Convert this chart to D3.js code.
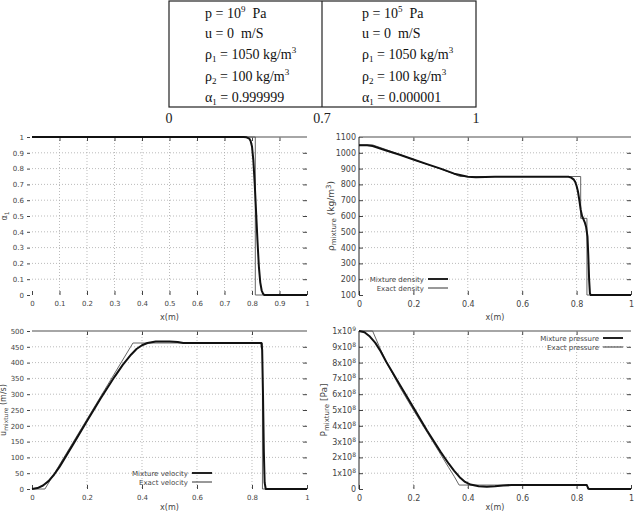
<!DOCTYPE html>
<html>
<head>
<meta charset="utf-8">
<script src="https://cdn.jsdelivr.net/npm/d3@7"></script>
<style>
  body { margin: 0; background: #fff; }
  svg { display: block; }
</style>
</head>
<body>
<svg id="chart" width="636" height="512"></svg>
<script>
const svg = d3.select('#chart');

// initial state table (segments: [text, 'sup'|'sub'|''])
const leftCell = [
  [['p = 10', ''], ['9', 'sup'], ['  Pa', '']],
  [['u = 0  m/S', '']],
  [['ρ', ''], ['1', 'sub'], [' = 1050 kg/m', ''], ['3', 'sup']],
  [['ρ', ''], ['2', 'sub'], [' = 100 kg/m', ''], ['3', 'sup']],
  [['α', ''], ['1', 'sub'], [' = 0.999999', '']]
];
const rightCell = [
  [['p = 10', ''], ['5', 'sup'], ['  Pa', '']],
  [['u = 0  m/S', '']],
  [['ρ', ''], ['1', 'sub'], [' = 1050 kg/m', ''], ['3', 'sup']],
  [['ρ', ''], ['2', 'sub'], [' = 100 kg/m', ''], ['3', 'sup']],
  [['α', ''], ['1', 'sub'], [' = 0.000001', '']]
];
const tubeMarks = ['0', '0.7', '1'];
const tubeMarkPos = [0, 0.7, 1];

// volume fraction alpha_1
const alphaNumX = [0, 0.77, 0.78, 0.79, 0.795, 0.80, 0.805, 0.81, 0.815, 0.82, 0.825, 0.83, 0.835, 0.84, 0.845, 1];
const alphaNumY = [1, 1, 0.998, 0.99, 0.975, 0.94, 0.85, 0.7, 0.52, 0.34, 0.18, 0.08, 0.03, 0.008, 0, 0];
const alphaExX = [0, 0.812, 0.812, 1];
const alphaExY = [1, 1, 0, 0];

// mixture density
const densNumX = [0, 0.03, 0.05, 0.1, 0.15, 0.2, 0.25, 0.3, 0.35, 0.4, 0.43, 0.5, 0.77, 0.78, 0.79, 0.795, 0.8, 0.805, 0.81, 0.815, 0.82, 0.825, 0.83, 0.835, 0.84, 0.843, 0.846, 0.849, 0.852, 1];
const densNumY = [1048, 1048, 1043, 1015, 988, 958, 928, 900, 868, 849, 845, 848, 848, 843, 830, 815, 790, 755, 700, 640, 600, 580, 560, 530, 470, 350, 200, 110, 100, 100];
const densExX = [0, 0.05, 0.1, 0.15, 0.2, 0.25, 0.3, 0.35, 0.37, 0.815, 0.815, 0.838, 0.838, 1];
const densExY = [1050, 1050, 1020, 988, 957, 927, 898, 866, 850, 850, 585, 585, 100, 100];

// mixture velocity
const velNumX = [0, 0.02, 0.04, 0.06, 0.08, 0.1, 0.15, 0.2, 0.25, 0.3, 0.33, 0.36, 0.38, 0.4, 0.42, 0.45, 0.5, 0.53, 0.55, 0.6, 0.834, 0.837, 0.84, 0.843, 0.846, 0.85, 1];
const velNumY = [0, 3, 11, 25, 45, 70, 142, 215, 287, 355, 393, 425, 443, 455, 462, 467, 467, 465, 462, 462, 462, 440, 300, 120, 20, 0, 0];
const velExX = [0, 0.047, 0.367, 0.838, 0.838, 1];
const velExY = [0, 0, 462, 462, 0, 0];

// mixture pressure, in units of 1e8 Pa
const presNumX = [0, 0.02, 0.04, 0.06, 0.08, 0.1, 0.15, 0.2, 0.25, 0.3, 0.33, 0.35, 0.37, 0.39, 0.41, 0.44, 0.47, 0.5, 0.53, 0.56, 0.837, 0.84, 0.843, 0.846, 1];
const presNumY = [10, 9.92, 9.65, 9.25, 8.7, 8.05, 6.6, 5.15, 3.7, 2.35, 1.6, 1.15, 0.75, 0.45, 0.28, 0.18, 0.15, 0.17, 0.22, 0.25, 0.25, 0.15, 0.04, 0.001, 0.001];
const presExX = [0, 0.05, 0.08, 0.1, 0.15, 0.2, 0.25, 0.3, 0.33, 0.35, 0.368, 0.84, 0.84, 1];
const presExY = [10, 10, 8.8, 8.05, 6.45, 5.0, 3.6, 2.2, 1.35, 0.8, 0.25, 0.25, 0.001, 0.001];
const presTickLabels = ['0', '1x10^8', '2x10^8', '3x10^8', '4x10^8', '5x10^8', '6x10^8', '7x10^8', '8x10^8', '9x10^8', '1x10^9'];

// ---------- table ----------
const tab = { left: 169, right: 476, top: 1, bottom: 107 };
// sketch of the tube is not to scale: 0.7 sits mid-box
const tubeX = d3.scaleLinear().domain([0, 0.7, 1]).range([tab.left, 322, tab.right]);
svg.append('rect')
    .attr('x', tab.left).attr('y', tab.top)
    .attr('width', tab.right - tab.left).attr('height', tab.bottom - tab.top)
    .attr('fill', 'none').attr('stroke', '#222').attr('stroke-width', 1.2);
svg.append('line')
    .attr('x1', tubeX(0.7)).attr('x2', tubeX(0.7))
    .attr('y1', tab.top).attr('y2', tab.bottom)
    .attr('stroke', '#222').attr('stroke-width', 1.2);

const rowBase = [18, 38, 59, 81, 102];
const writeCell = (rows, x0) => {
  rows.forEach((segs, i) => {
    const t = svg.append('text')
        .attr('x', x0).attr('y', rowBase[i])
        .attr('font-family', 'Liberation Serif, serif')
        .attr('font-size', 14)
        .attr('fill', '#111')
        .style('white-space', 'pre');
    let shift = 0;
    segs.forEach(([txt, kind]) => {
      const target = kind === 'sup' ? -6 : kind === 'sub' ? 3 : 0;
      t.append('tspan')
          .attr('dy', target - shift)
          .attr('font-size', kind ? 9 : 14)
          .text(txt);
      shift = target;
    });
  });
};
writeCell(leftCell, 205);
writeCell(rightCell, 362);

svg.selectAll('.tubemark')
    .data(tubeMarks)
    .enter().append('text')
    .attr('x', (d, i) => tubeX(tubeMarkPos[i]))
    .attr('y', 123)
    .attr('text-anchor', 'middle')
    .attr('font-family', 'Liberation Serif, serif')
    .attr('font-size', 14)
    .attr('fill', '#222')
    .text(d => d);

// ---------- plots ----------
const drawPanel = o => {
  const g = svg.append('g')
      .attr('font-family', 'DejaVu Sans, sans-serif');
  const x = d3.scaleLinear().domain([0, 1]).range([o.left, o.right]);
  const y = d3.scaleLinear().domain(o.yDomain).range([o.bottom, o.top]);

  // grid
  g.selectAll('.gx')
      .data(o.xTicks.filter(d => d > 0 && d < 1))
      .enter().append('line')
      .attr('x1', d => x(d)).attr('x2', d => x(d))
      .attr('y1', o.top).attr('y2', o.bottom)
      .attr('stroke', '#aaa').attr('stroke-width', 0.8)
      .attr('stroke-dasharray', '1,2');
  g.selectAll('.gy')
      .data(o.yTicks.filter(d => d > o.yDomain[0] && d < o.yDomain[1]))
      .enter().append('line')
      .attr('x1', o.left).attr('x2', o.right)
      .attr('y1', d => y(d)).attr('y2', d => y(d))
      .attr('stroke', '#aaa').attr('stroke-width', 0.8)
      .attr('stroke-dasharray', '1,2');

  // axes
  const styleAxis = fs => a => {
    a.select('.domain').remove();
    a.selectAll('line').attr('stroke', '#444');
    a.selectAll('text').attr('fill', '#444').attr('font-size', fs);
    a.attr('font-family', null);
  };
  g.append('g')
      .attr('transform', 'translate(0,' + o.bottom + ')')
      .call(d3.axisBottom(x).tickValues(o.xTicks).tickSize(-4).tickPadding(6)
        .tickFormat(d => d3.format('~g')(d)))
      .call(styleAxis(o.tickFont));
  g.append('g')
      .attr('transform', 'translate(0,' + o.top + ')')
      .call(d3.axisTop(x).tickValues(o.xTicks.filter(d => d > 0 && d < 1)).tickSize(-4).tickFormat(''))
      .call(styleAxis(o.tickFont));
  g.append('g')
      .attr('transform', 'translate(' + o.right + ',0)')
      .call(d3.axisRight(y).tickValues(o.yTicks.filter(d => d > o.yDomain[0] && d < o.yDomain[1])).tickSize(-4).tickFormat(''))
      .call(styleAxis(o.tickFont));
  const yAx = g.append('g')
      .attr('transform', 'translate(' + o.left + ',0)')
      .call(d3.axisLeft(y).tickValues(o.yTicks)
        .tickSize(o.tickOut ? 5 : -4).tickPadding(o.tickOut ? 3 : 3)
        .tickFormat(o.yFormat || (d => d3.format('~g')(d))))
      .call(styleAxis(o.tickFont));
  if (o.tickOut) yAx.selectAll('line').attr('x1', -2);
  if (o.superLabels) {
    yAx.selectAll('text').each(function () {
      const s = d3.select(this);
      const parts = s.text().split('^');
      s.text(parts[0]);
      if (parts.length > 1) {
        s.append('tspan').attr('dy', -3).attr('font-size', 6).text(parts[1]);
      }
    });
  }

  // borders
  g.append('line')
      .attr('x1', o.left).attr('x2', o.right)
      .attr('y1', o.top).attr('y2', o.top)
      .attr('stroke', '#888').attr('stroke-width', 1.4);
  if (o.leftBorder) {
    g.append('line')
        .attr('x1', o.left).attr('x2', o.left)
        .attr('y1', o.top).attr('y2', o.bottom)
        .attr('stroke', '#222').attr('stroke-width', 1);
  }

  // series
  const line = d3.line().x(d => x(d[0])).y(d => y(d[1]));
  const zip = (xs, ys) => xs.map((v, i) => [v, ys[i]]);
  g.append('path')
      .attr('d', line(zip(o.exX, o.exY)))
      .attr('fill', 'none').attr('stroke', '#555').attr('stroke-width', 0.9);
  g.append('path')
      .attr('d', line(zip(o.numX, o.numY)))
      .attr('fill', 'none').attr('stroke', '#111').attr('stroke-width', 2)
      .attr('stroke-linejoin', 'round');

  // axis titles
  g.append('text')
      .attr('x', (o.left + o.right) / 2).attr('y', o.bottom + o.xTitleDy)
      .attr('text-anchor', 'middle').attr('font-size', 8).attr('fill', '#444')
      .text('x(m)');
  const yt = g.append('text')
      .attr('transform', 'translate(' + o.yTitleX + ',' + (o.top + o.bottom) / 2 + ') rotate(-90)')
      .attr('text-anchor', 'middle').attr('font-size', o.yTitleSize).attr('fill', '#444');
  o.yTitle.forEach(([txt, kind]) => {
    yt.append('tspan')
        .attr('baseline-shift', kind === 'sub' ? '-25%' : kind === 'sup' ? '40%' : null)
        .attr('font-size', kind ? o.yTitleSize - 2 : o.yTitleSize)
        .text(txt);
  });

  // legend
  if (o.legend) {
    o.legend.forEach((lab, i) => {
      const ly = o.legendY + i * 9;
      g.append('text')
          .attr('x', o.legendX).attr('y', ly + 2.5)
          .attr('text-anchor', 'end').attr('font-size', 7).attr('fill', '#444')
          .text(lab);
      g.append('line')
          .attr('x1', o.legendX + 4).attr('x2', o.legendX + 24)
          .attr('y1', ly).attr('y2', ly)
          .attr('stroke', i === 0 ? '#222' : '#333')
          .attr('stroke-width', i === 0 ? 2 : 1);
    });
  }
};

drawPanel({
  left: 32, right: 307, top: 137, bottom: 295,
  yDomain: [0, 1], yTicks: d3.range(0, 11).map(d => d / 10),
  xTicks: d3.range(0, 11).map(d => d / 10),
  tickOut: true, leftBorder: false, tickFont: 7, xTitleDy: 25,
  numX: alphaNumX, numY: alphaNumY, exX: alphaExX, exY: alphaExY,
  yTitleX: 7, yTitleSize: 8, yTitle: [['α', ''], ['1', 'sub']]
});

drawPanel({
  left: 359, right: 631, top: 137, bottom: 295,
  yDomain: [100, 1100], yTicks: d3.range(100, 1101, 100),
  xTicks: [0, 0.2, 0.4, 0.6, 0.8, 1],
  tickOut: false, leftBorder: true, tickFont: 8, xTitleDy: 25,
  numX: densNumX, numY: densNumY, exX: densExX, exY: densExY,
  yTitleX: 334, yTitleSize: 9, yTitle: [['ρ', ''], ['mixture', 'sub'], [' (kg/m', ''], ['3', 'sup'], [')', '']],
  legend: ['Mixture density', 'Exact density'], legendX: 424, legendY: 279
});

drawPanel({
  left: 32, right: 307, top: 331, bottom: 489,
  yDomain: [0, 500], yTicks: d3.range(0, 501, 50),
  xTicks: [0, 0.2, 0.4, 0.6, 0.8, 1],
  tickOut: true, leftBorder: false, tickFont: 7, xTitleDy: 21,
  numX: velNumX, numY: velNumY, exX: velExX, exY: velExY,
  yTitleX: 6, yTitleSize: 8, yTitle: [['u', ''], ['mixture', 'sub'], [' (m/s)', '']],
  legend: ['Mixture velocity', 'Exact velocity'], legendX: 188, legendY: 473
});

drawPanel({
  left: 359, right: 631, top: 331, bottom: 489,
  yDomain: [0, 10], yTicks: d3.range(0, 11),
  xTicks: [0, 0.2, 0.4, 0.6, 0.8, 1],
  tickOut: false, leftBorder: true, superLabels: true, tickFont: 8, xTitleDy: 21,
  yFormat: d => presTickLabels[d],
  numX: presNumX, numY: presNumY, exX: presExX, exY: presExY,
  yTitleX: 327, yTitleSize: 9, yTitle: [['P', ''], ['mixture', 'sub'], [' [Pa]', '']],
  legend: ['Mixture pressure', 'Exact pressure'], legendX: 599, legendY: 338
});
</script>
</body>
</html>
